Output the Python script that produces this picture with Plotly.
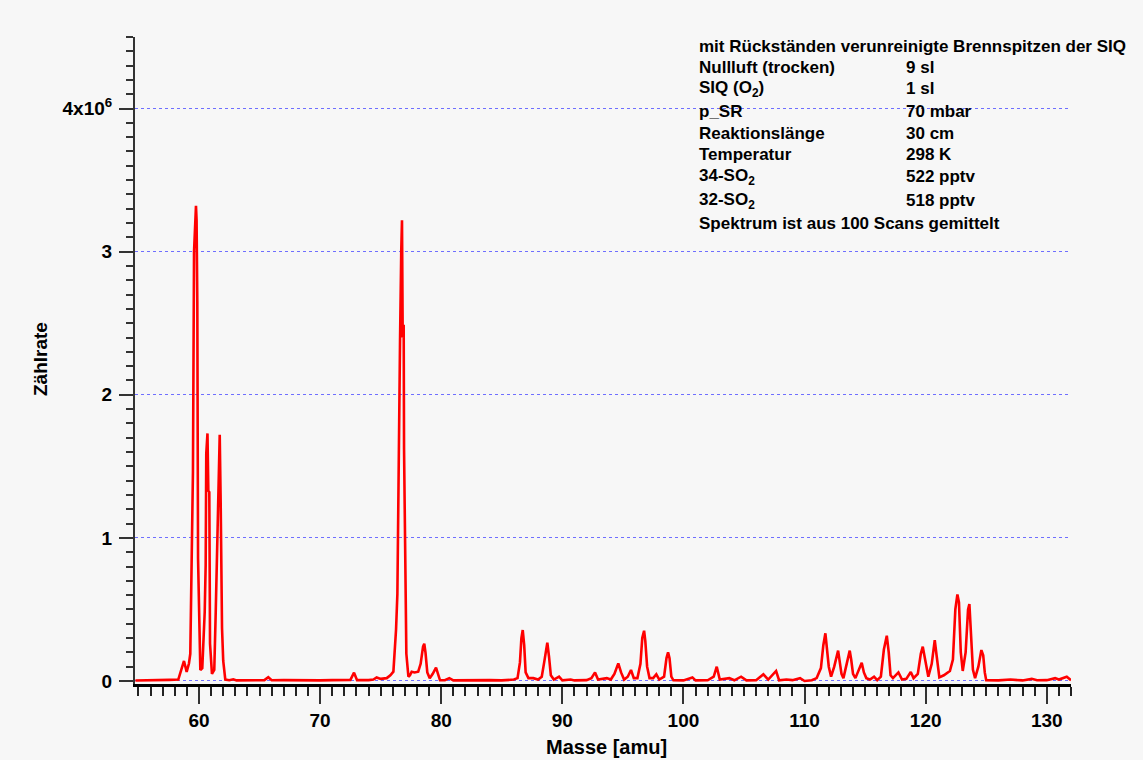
import plotly.graph_objects as go

# ---- data (mass in amu, count rate in units of 1e6) ----
mass = [
    54.75, 55.5, 56.5, 57.4, 57.55, 58.29, 58.51, 58.76, 58.98, 59.17, 59.28, 59.34, 59.42, 59.5,
    59.59, 59.75, 59.80, 59.86, 59.92, 60.0, 60.11, 60.27, 60.36, 60.47, 60.55, 60.6, 60.7, 60.77,
    60.85, 60.91, 61.07, 61.26, 61.38, 61.46, 61.57, 61.71, 61.79, 61.9, 62.0, 62.17, 62.5, 62.83,
    63.1, 64.0, 64.6, 65.4, 65.72, 66.0, 67.0, 68.0, 69.0, 70.0, 71.0, 72.0, 72.5, 72.8, 73.05,
    74.0, 74.4, 74.67, 75.0, 75.5, 75.8, 76.05, 76.18, 76.27, 76.38, 76.49, 76.6, 76.7, 76.76,
    76.82, 76.9, 76.93, 77.04, 77.12, 77.29, 77.42, 77.56, 77.8, 78.1, 78.3, 78.5, 78.6, 78.7,
    78.85, 79.05, 79.3, 79.57, 79.75, 79.9, 80.3, 80.67, 81.0, 82.0, 83.0, 84.0, 85.0, 86.0,
    86.3, 86.5, 86.62, 86.73, 86.85, 86.97, 87.2, 87.6, 88.0, 88.3, 88.5, 88.65, 88.76, 88.9,
    89.05, 89.3, 89.73, 90.0, 90.69, 91.0, 92.0, 92.4, 92.7, 92.95, 93.67, 94.0, 94.3, 94.62,
    94.85, 95.1, 95.4, 95.67, 95.9, 96.2, 96.45, 96.6, 96.75, 96.85, 97.0, 97.2, 97.5, 97.76,
    98.0, 98.4, 98.6, 98.73, 98.85, 99.0, 99.17, 100.0, 100.74, 101.0, 102.0, 102.5, 102.75,
    103.0, 103.79, 104.2, 104.76, 105.2, 106.0, 106.6, 107.0, 107.65, 107.9, 108.5, 109.0,
    109.63, 110.0, 110.6, 111.0, 111.35, 111.55, 111.72, 111.85, 112.0, 112.19, 112.45, 112.77,
    112.9, 113.05, 113.21, 113.45, 113.73, 113.85, 114.0, 114.2, 114.5, 114.72, 114.9, 115.1,
    115.4, 115.74, 116.0, 116.3, 116.55, 116.79, 116.95, 117.1, 117.3, 117.75, 118.05, 118.4,
    118.77, 119.0, 119.35, 119.6, 119.76, 119.95, 120.22, 120.5, 120.75, 120.9, 121.13, 121.5,
    122.0, 122.25, 122.45, 122.62, 122.75, 122.9, 123.06, 123.3, 123.5, 123.61, 123.75, 123.9,
    124.08, 124.35, 124.6, 124.75, 124.88, 125.0, 126.0, 127.0, 128.0, 128.76, 129.2, 130.0,
    130.69, 131.0, 131.65, 132.0,
]
rate_millions = [
    0.003, 0.003, 0.003, 0.003, 0.008, 0.01, 0.077, 0.14, 0.064, 0.122, 0.19, 0.5, 0.88, 1.46,
    3.0, 3.32, 3.22, 2.65, 0.86, 0.38, 0.077, 0.09, 0.27, 0.48, 0.81, 1.59, 1.73, 1.33,
    1.32, 0.26, 0.05, 0.077, 0.48, 0.82, 1.25, 1.72, 1.24, 0.37, 0.14, 0.01, 0.005, 0.012,
    0.004, 0.006, 0.004, 0.006, 0.026, 0.005, 0.006, 0.004, 0.006, 0.004, 0.006, 0.004, 0.008, 0.058, 0.006,
    0.006, 0.01, 0.025, 0.015, 0.02, 0.04, 0.065, 0.24, 0.36, 0.61, 1.64, 2.39, 3.01, 3.22,
    2.40, 2.49, 1.62, 0.89, 0.19, 0.03, 0.04, 0.065, 0.06, 0.065, 0.12, 0.24, 0.26, 0.2,
    0.06, 0.02, 0.05, 0.093, 0.05, 0.005, 0.005, 0.02, 0.004, 0.006, 0.004, 0.006, 0.004, 0.01,
    0.02, 0.13, 0.3, 0.356, 0.25, 0.06, 0.02, 0.02, 0.01, 0.03, 0.13, 0.23, 0.267, 0.17,
    0.04, 0.01, 0.03, 0.005, 0.01, 0.004, 0.006, 0.02, 0.06, 0.01, 0.02, 0.01, 0.05, 0.123,
    0.06, 0.01, 0.03, 0.077, 0.02, 0.02, 0.12, 0.3, 0.351, 0.28, 0.1, 0.02, 0.02, 0.047,
    0.01, 0.03, 0.16, 0.2, 0.16, 0.03, 0.005, 0.004, 0.025, 0.004, 0.005, 0.03, 0.10,
    0.01, 0.02, 0.005, 0.03, 0.004, 0.006, 0.047, 0.01, 0.07, 0.005, 0.01, 0.006,
    0.02, 0.0, 0.005, 0.02, 0.09, 0.25, 0.333, 0.23, 0.1, 0.03, 0.1, 0.212,
    0.15, 0.05, 0.02, 0.1, 0.212, 0.15, 0.05, 0.02, 0.08, 0.128, 0.06, 0.02,
    0.01, 0.03, 0.006, 0.03, 0.22, 0.316, 0.2, 0.04, 0.02, 0.06, 0.01, 0.015,
    0.063, 0.02, 0.05, 0.19, 0.24, 0.14, 0.03, 0.12, 0.286, 0.18, 0.025, 0.04,
    0.07, 0.15, 0.5, 0.605, 0.55, 0.2, 0.07, 0.2, 0.5, 0.537, 0.35, 0.08,
    0.02, 0.1, 0.216, 0.18, 0.06, 0.005, 0.004, 0.01, 0.004, 0.015, 0.005, 0.006,
    0.02, 0.01, 0.03, 0.006,
]
SCALE = 1e6
rate = [v * SCALE for v in rate_millions]

y_tickvals = [0, 1e6, 2e6, 3e6, 4e6]
y_ticktext = ["0", "1", "2", "3", "4x10<sup>6</sup>"]

info_left = ["Nullluft (trocken)", "SIQ (O<sub>2</sub>)", "p_SR", "Reaktionslänge",
             "Temperatur", "34-SO<sub>2</sub>", "32-SO<sub>2</sub>"]
info_right = ["9 sl", "1 sl", "70 mbar", "30 cm", "298 K", "522 pptv", "518 pptv"]
info_title = "mit Rückständen verunreinigte Brennspitzen der SIQ"
info_footer = "Spektrum ist aus 100 Scans gemittelt"

# ---- layout geometry (pixels) ----
W, H = 1143, 760
L, R, T, B = 135, 72, 37, 76
PW, PH = W - L - R, H - T - B


def px(xp):
    return (xp - L) / PW


def py(yp):
    return (H - B - yp) / PH


FONT = "Liberation Sans, Arial, sans-serif"
BG = "#f7f7f7"
INFO_SIZE = 17

fig = go.Figure()
fig.add_trace(go.Scatter(x=mass, y=rate, mode="lines",
                         line=dict(color="#ff0000", width=2.6), hoverinfo="skip"))

annotations = []
line_y = [67.3, 88.5, 111.7, 133.3, 154.5, 176.5, 200.7]


def info(x, y, text):
    return dict(x=px(x), y=py(y), xref="paper", yref="paper", text=text,
                showarrow=False, xanchor="left", yanchor="middle",
                font=dict(family=FONT, size=INFO_SIZE, color="black", weight="bold"))


annotations.append(info(697, 46, info_title))
for ly, lt, rt in zip(line_y, info_left, info_right):
    annotations.append(info(697, ly, lt))
    annotations.append(info(904, ly, rt))
annotations.append(info(697, 223.5, info_footer))

# axis titles
annotations.append(dict(x=px(606), y=py(747), xref="paper", yref="paper", text="Masse [amu]",
                        showarrow=False, xanchor="center", yanchor="middle",
                        font=dict(family=FONT, size=20, color="black", weight="bold")))
annotations.append(dict(x=px(40), y=py(359), xref="paper", yref="paper", text="Zählrate",
                        showarrow=False, xanchor="center", yanchor="middle", textangle=-90,
                        font=dict(family=FONT, size=19, color="black", weight="bold")))

fig.update_layout(
    width=W, height=H,
    margin=dict(l=L, r=R, t=T, b=B, pad=0),
    paper_bgcolor=BG, plot_bgcolor=BG,
    showlegend=False,
    annotations=annotations,
    xaxis=dict(
        range=[54.715, 132.0], tickmode="linear", tick0=0, dtick=10,
        ticks="outside", ticklen=17, tickwidth=2, tickcolor="#333333",
        showline=True, linecolor="black", linewidth=3,
        showgrid=False, zeroline=False,
        tickfont=dict(family=FONT, size=19, color="black", weight="bold"),
        ticklabelstandoff=0,
        minor=dict(tickmode="linear", tick0=0, dtick=1, ticks="outside", ticklen=9,
                   tickwidth=2, tickcolor="#222222", showgrid=False),
    ),
    yaxis=dict(
        range=[-0.021e6, 4.5e6], tickmode="array", tickvals=y_tickvals, ticktext=y_ticktext,
        ticks="outside", ticklen=14, tickwidth=2, tickcolor="#333333",
        showline=True, linecolor="#333333", linewidth=2,
        showgrid=True, gridcolor="#6f6fff", gridwidth=1, griddash="dot",
        zeroline=False,
        tickfont=dict(family=FONT, size=19, color="black", weight="bold"),
        ticklabelstandoff=3,
        minor=dict(tickmode="linear", tick0=0, dtick=1e5, ticks="outside", ticklen=7,
                   tickwidth=2, tickcolor="#333333", showgrid=False),
    ),
)

fig.write_html(
    "out.html",
    config={"displayModeBar": False},
    post_script="document.body.style.margin='0px';document.body.style.overflow='hidden';"
                "document.body.style.background='#f7f7f7';",
)
